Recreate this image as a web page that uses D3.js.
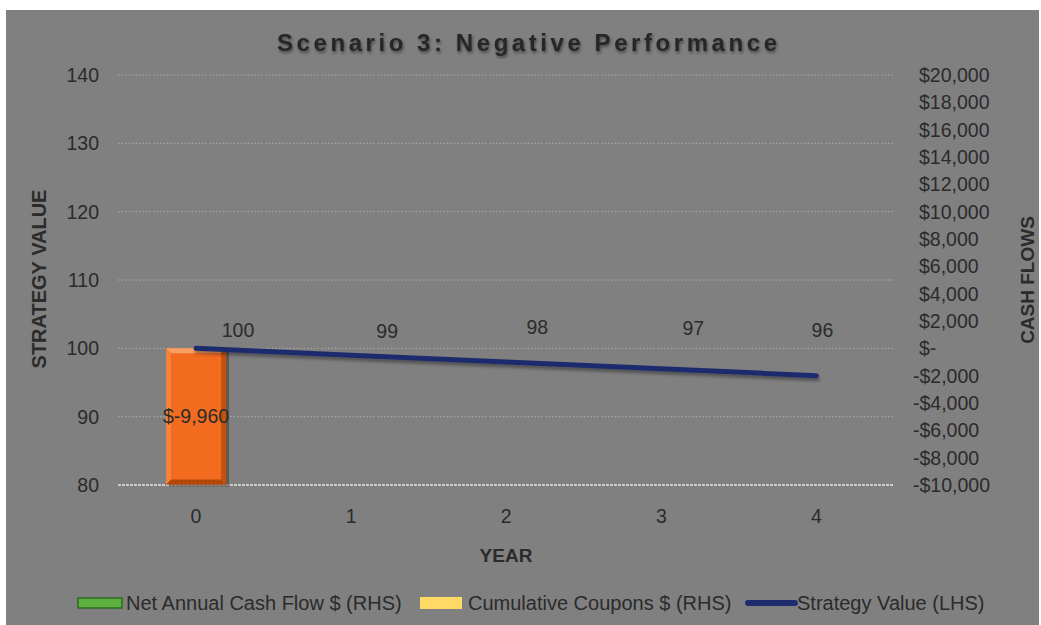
<!DOCTYPE html>
<html>
<head>
<meta charset="utf-8">
<script src="https://cdn.jsdelivr.net/npm/d3@7"></script>
<style>
  html, body { margin: 0; padding: 0; background: #fff; }
  svg { display: block; font-family: "Liberation Sans", Arial, sans-serif; }
</style>
</head>
<body>
<div id="chart"></div>
<script>
'use strict';

// chart data
var years = [0, 1, 2, 3, 4];
var strategyValue = [100, 99, 98, 97, 96];
var netCashFlow = [-9960, 0, 0, 0, 0];
var cumulativeCoupons = [0, 0, 0, 0, 0];
var leftTicks = [80, 90, 100, 110, 120, 130, 140];
var rightTicks = [-10000, -8000, -6000, -4000, -2000, 0, 2000, 4000, 6000, 8000,
  10000, 12000, 14000, 16000, 18000, 20000];
var valueLabelDx = [42, 36, 31, 32, 6];
var valueLabelDy = [-11, -17, -28, -34, -39];
var legendNames = ['Net Annual Cash Flow $ (RHS)', 'Cumulative Coupons $ (RHS)', 'Strategy Value (LHS)'];

var W = 1041, H = 625;
var textColor = '#2b2b2b';

var svg = d3.select('#chart').append('svg')
  .attr('width', W)
  .attr('height', H);

var defs = svg.append('defs');
defs.append('filter').attr('id', 'lineShadow')
  .attr('x', '-10%').attr('y', '-100%').attr('width', '120%').attr('height', '300%')
  .append('feDropShadow')
  .attr('dx', 1).attr('dy', 3).attr('stdDeviation', 1.8)
  .attr('flood-color', '#000').attr('flood-opacity', 0.35);
defs.append('filter').attr('id', 'titleShadow')
  .append('feDropShadow')
  .attr('dx', 1).attr('dy', 2).attr('stdDeviation', 1.4)
  .attr('flood-color', '#000').attr('flood-opacity', 0.45);

// gray chart area
svg.append('rect')
  .attr('x', 6).attr('y', 10)
  .attr('width', 1033).attr('height', H - 10)
  .attr('fill', '#808080');

var x = d3.scaleBand().domain(years).range([118.5, 894]);
var yL = d3.scaleLinear().domain([80, 140]).range([485, 75]);
var yR = d3.scaleLinear().domain([-10000, 20000]).range([485, 75]);

// gridlines
svg.append('g').selectAll('line')
  .data(leftTicks)
  .enter()
  .append('line')
  .attr('x1', 118).attr('x2', 894)
  .attr('y1', function(d) { return yL(d); })
  .attr('y2', function(d) { return yL(d); })
  .attr('stroke', function(d) { return d === 80 ? '#e6e6e6' : '#ababab'; })
  .attr('stroke-width', function(d) { return d === 80 ? 1.5 : 1; })
  .attr('stroke-dasharray', function(d) { return d === 80 ? '3,1' : '1.5,2'; });

// left axis labels
svg.append('g').selectAll('text')
  .data(leftTicks)
  .enter()
  .append('text')
  .attr('x', 99)
  .attr('y', function(d) { return yL(d); })
  .attr('dy', '0.36em')
  .attr('text-anchor', 'end')
  .attr('font-size', '19.5px')
  .attr('fill', textColor)
  .text(function(d) { return d; });

// right axis labels
var fmt = d3.formatLocale({ decimal: '.', thousands: ',', grouping: [3], currency: ['$', ''], minus: '-' }).format(',');
svg.append('g').selectAll('text')
  .data(rightTicks)
  .enter()
  .append('text')
  .attr('x', function(d) { return d < 0 ? 913 : 919; })
  .attr('y', function(d) { return yR(d); })
  .attr('dy', '0.36em')
  .attr('font-size', '19.5px')
  .attr('fill', textColor)
  .text(function(d) {
    if (d === 0) return '$-';
    return d < 0 ? '-$' + fmt(-d) : '$' + fmt(d);
  });

// x axis labels
svg.append('g').selectAll('text')
  .data(years)
  .enter()
  .append('text')
  .attr('x', function(d) { return x(d) + x.bandwidth() / 2; })
  .attr('y', 523)
  .attr('text-anchor', 'middle')
  .attr('font-size', '19.5px')
  .attr('fill', textColor)
  .text(function(d) { return d; });

// axis titles
svg.append('text')
  .attr('transform', 'translate(46,279) rotate(-90)')
  .attr('text-anchor', 'middle')
  .attr('font-size', '20px')
  .attr('font-weight', 'bold')
  .attr('fill', textColor)
  .text('STRATEGY VALUE');

svg.append('text')
  .attr('transform', 'translate(1034,280) rotate(-90)')
  .attr('text-anchor', 'middle')
  .attr('font-size', '19px')
  .attr('font-weight', 'bold')
  .attr('fill', textColor)
  .text('CASH FLOWS');

svg.append('text')
  .attr('x', 506).attr('y', 562)
  .attr('text-anchor', 'middle')
  .attr('font-size', '19px')
  .attr('font-weight', 'bold')
  .attr('fill', textColor)
  .text('YEAR');

// title
svg.append('text')
  .attr('x', 527).attr('y', 51)
  .attr('text-anchor', 'middle')
  .attr('font-size', '24px')
  .attr('font-weight', 'bold')
  .attr('textLength', 500)
  .attr('lengthAdjust', 'spacing')
  .attr('fill', '#262626')
  .attr('filter', 'url(#titleShadow)')
  .text('Scenario 3: Negative Performance');

// net annual cash flow bars (orange when negative)
var barW = 60;
var bars = svg.append('g').selectAll('g')
  .data(years.map(function(d, i) { return { year: d, v: netCashFlow[i] }; })
    .filter(function(d) { return d.v !== 0; }))
  .enter()
  .append('g');

bars.each(function(d) {
  var g = d3.select(this);
  var bx = x(d.year) + x.bandwidth() / 2 - barW / 2;
  var y0 = Math.min(yR(0), yR(d.v));
  var h = Math.abs(yR(d.v) - yR(0));
  var e = 5;
  g.append('rect').attr('x', bx + 3).attr('y', y0 + 2)
    .attr('width', barW).attr('height', h)
    .attr('fill', '#3a2a20').attr('opacity', 0.45);
  g.append('rect').attr('x', bx).attr('y', y0)
    .attr('width', barW).attr('height', h)
    .attr('fill', d.v < 0 ? '#f26b1f' : '#5aa83c');
  // bevel edges
  g.append('polygon')
    .attr('points', [[bx, y0], [bx + barW, y0], [bx + barW - e, y0 + e], [bx + e, y0 + e]].join(' '))
    .attr('fill', '#f9a061');
  g.append('polygon')
    .attr('points', [[bx, y0], [bx + e, y0 + e], [bx + e, y0 + h - e], [bx, y0 + h]].join(' '))
    .attr('fill', '#f5843a');
  g.append('polygon')
    .attr('points', [[bx + barW, y0], [bx + barW, y0 + h], [bx + barW - e, y0 + h - e], [bx + barW - e, y0 + e]].join(' '))
    .attr('fill', '#c4520f');
  g.append('polygon')
    .attr('points', [[bx, y0 + h], [bx + barW, y0 + h], [bx + barW - e, y0 + h - e], [bx + e, y0 + h - e]].join(' '))
    .attr('fill', '#b3470b');
  g.append('text')
    .attr('x', bx + barW / 2)
    .attr('y', y0 + h / 2)
    .attr('dy', '0.36em')
    .attr('text-anchor', 'middle')
    .attr('font-size', '19.5px')
    .attr('fill', textColor)
    .text('$' + fmt(d.v));
});

// strategy value line
var line = d3.line()
  .x(function(d, i) { return x(years[i]) + x.bandwidth() / 2; })
  .y(function(d) { return yL(d); });

svg.append('path')
  .datum(strategyValue)
  .attr('d', line)
  .attr('fill', 'none')
  .attr('stroke', '#1e2b6e')
  .attr('stroke-width', 5)
  .attr('stroke-linecap', 'round')
  .attr('filter', 'url(#lineShadow)');

svg.append('g').selectAll('text')
  .data(strategyValue)
  .enter()
  .append('text')
  .attr('x', function(d, i) { return x(years[i]) + x.bandwidth() / 2 + valueLabelDx[i]; })
  .attr('y', function(d, i) { return yL(d) + valueLabelDy[i]; })
  .attr('text-anchor', 'middle')
  .attr('font-size', '19.5px')
  .attr('fill', textColor)
  .text(function(d) { return d; });

// legend
var legend = svg.append('g');
legend.append('rect')
  .attr('x', 78).attr('y', 598).attr('width', 44).attr('height', 10)
  .attr('fill', '#5cb040').attr('stroke', '#2e6a1c').attr('stroke-width', 1.5);
legend.append('rect')
  .attr('x', 420).attr('y', 597).attr('width', 42).attr('height', 12)
  .attr('fill', '#ffd966');
legend.append('line')
  .attr('x1', 748).attr('x2', 795).attr('y1', 603).attr('y2', 603)
  .attr('stroke', '#1e2b6e').attr('stroke-width', 6).attr('stroke-linecap', 'round');

var legendX = [126, 468, 797];
legend.selectAll('text')
  .data(legendNames)
  .enter()
  .append('text')
  .attr('x', function(d, i) { return legendX[i]; })
  .attr('y', 610)
  .attr('font-size', '20px')
  .attr('fill', textColor)
  .text(function(d) { return d; });
</script>
</body>
</html>
